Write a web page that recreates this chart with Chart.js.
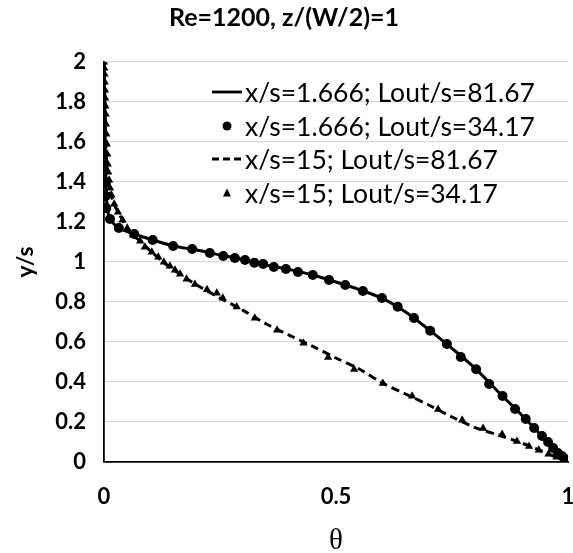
<!DOCTYPE html>
<html>
<head>
<meta charset="utf-8">
<script src="https://cdn.jsdelivr.net/npm/chart.js@4/dist/chart.umd.min.js"></script>
<style>
  html, body { margin: 0; padding: 0; background: #ffffff; }
  #wrap { width: 573px; height: 553px; }
</style>
</head>
<body>
<div id="wrap"><canvas id="c" width="573" height="553"></canvas></div>
<script>
// ---- Data ----
const titleText = "Re=1200, z/(W/2)=1";
const xTitle = "θ";
const yTitle = "y/s";
const seriesLabels = [
  "x/s=1.666; Lout/s=81.67",
  "x/s=1.666; Lout/s=34.17",
  "x/s=15; Lout/s=81.67",
  "x/s=15; Lout/s=34.17"
];

// x/s=1.666; Lout/s=81.67 (solid line)
const thetaA = [0.0, 0.001, 0.002, 0.003, 0.004, 0.005, 0.008, 0.013, 0.032, 0.065, 0.105, 0.15, 0.2, 0.25, 0.3, 0.35, 0.4, 0.45, 0.5, 0.55, 0.6, 0.65, 0.7, 0.75, 0.8, 0.85, 0.9, 0.95, 0.98, 1.0];
const yA     = [2.0, 1.85, 1.7, 1.55, 1.42, 1.33, 1.26, 1.215, 1.17, 1.14, 1.11, 1.08, 1.06, 1.035, 1.012, 0.985, 0.962, 0.935, 0.9, 0.862, 0.818, 0.75, 0.662, 0.568, 0.468, 0.35, 0.235, 0.115, 0.04, 0.0];

// x/s=1.666; Lout/s=34.17 (dots)
const thetaB = [0.004, 0.004, 0.005, 0.013, 0.032, 0.065, 0.105, 0.149, 0.19, 0.228, 0.257, 0.282, 0.304, 0.324, 0.343, 0.366, 0.392, 0.418, 0.45, 0.485, 0.52, 0.558, 0.599, 0.633, 0.668, 0.703, 0.739, 0.769, 0.802, 0.83, 0.859, 0.886, 0.909, 0.927, 0.944, 0.957, 0.968, 0.978, 0.987, 0.994, 1.0];
const yB     = [1.40, 1.33, 1.27, 1.215, 1.17, 1.14, 1.11, 1.08, 1.065, 1.045, 1.03, 1.02, 1.01, 0.996, 0.99, 0.975, 0.965, 0.95, 0.935, 0.91, 0.885, 0.855, 0.82, 0.776, 0.72, 0.656, 0.59, 0.525, 0.464, 0.39, 0.33, 0.265, 0.215, 0.17, 0.13, 0.10, 0.07, 0.045, 0.03, 0.015, 0.0];

// x/s=15; Lout/s=81.67 (dashed line)
const thetaC = [0.0, 0.002, 0.004, 0.007, 0.012, 0.02, 0.03, 0.045, 0.06, 0.08, 0.1, 0.13, 0.16, 0.2, 0.25, 0.3, 0.35, 0.4, 0.45, 0.5, 0.55, 0.6, 0.65, 0.7, 0.75, 0.8, 0.85, 0.9, 0.95, 1.0];
const yC     = [2.0, 1.8, 1.6, 1.45, 1.37, 1.3, 1.25, 1.19, 1.14, 1.1, 1.055, 0.995, 0.945, 0.885, 0.82, 0.758, 0.69, 0.633, 0.578, 0.52, 0.465, 0.395, 0.34, 0.285, 0.225, 0.172, 0.135, 0.095, 0.048, 0.0];

// x/s=15; Lout/s=34.17 (triangles)
const thetaD = [0.0, 0.0005, 0.001, 0.0015, 0.002, 0.0025, 0.003, 0.0035, 0.004, 0.005, 0.006, 0.007, 0.008, 0.009, 0.011, 0.013, 0.016, 0.022, 0.03, 0.04, 0.05, 0.063, 0.078, 0.088, 0.103, 0.117, 0.129, 0.142, 0.153, 0.164, 0.178, 0.196, 0.222, 0.243, 0.256, 0.286, 0.325, 0.373, 0.43, 0.483, 0.539, 0.601, 0.664, 0.72, 0.772, 0.817, 0.858, 0.89, 0.916, 0.937, 0.958, 0.975, 0.99, 1.0];
const yD     = [2.0, 1.97, 1.94, 1.9, 1.86, 1.82, 1.78, 1.74, 1.69, 1.64, 1.59, 1.54, 1.49, 1.45, 1.41, 1.37, 1.335, 1.29, 1.25, 1.21, 1.17, 1.135, 1.105, 1.075, 1.05, 1.025, 1.0, 0.98, 0.96, 0.94, 0.915, 0.888, 0.862, 0.845, 0.82, 0.776, 0.72, 0.66, 0.595, 0.523, 0.463, 0.393, 0.33, 0.263, 0.21, 0.168, 0.138, 0.103, 0.078, 0.06, 0.04, 0.025, 0.01, 0.0];

const xTicks = [0, 0.5, 1];
const xTickLabels = ["0", "0.5", "1"];

// ---- Build ----
const pts = (xs, ys) => xs.map((x, i) => ({ x: x, y: ys[i] }));
const fmt = v => String(Number(Number(v).toFixed(1)));

const legendPlugin = {
  id: 'insideLegend',
  afterDraw(chart) {
    const ctx = chart.ctx;
    const a = chart.chartArea;
    const x0 = a.left + 108, x1 = a.left + 138, tx = a.left + 141;
    const rowY = [a.top + 30, a.top + 64, a.top + 97, a.top + 131];
    ctx.save();
    ctx.fillStyle = '#000';
    ctx.strokeStyle = '#000';
    ctx.font = '26.5px Lato';
    ctx.textBaseline = 'middle';
    ctx.textAlign = 'left';
    ctx.lineWidth = 2.8;
    ctx.beginPath(); ctx.moveTo(x0, rowY[0]); ctx.lineTo(x1, rowY[0]); ctx.stroke();
    ctx.beginPath(); ctx.arc((x0 + x1) / 2, rowY[1], 4.5, 0, Math.PI * 2); ctx.fill();
    ctx.setLineDash([7, 4]);
    ctx.beginPath(); ctx.moveTo(x0, rowY[2]); ctx.lineTo(x1, rowY[2]); ctx.stroke();
    ctx.setLineDash([]);
    const cx = (x0 + x1) / 2, cy = rowY[3];
    ctx.beginPath(); ctx.moveTo(cx, cy - 4.5); ctx.lineTo(cx + 4, cy + 3.5); ctx.lineTo(cx - 4, cy + 3.5); ctx.closePath(); ctx.fill();
    seriesLabels.forEach((t, i) => ctx.fillText(t, tx, rowY[i] + 1));
    ctx.restore();
  }
};

new Chart(document.getElementById('c'), {
  type: 'scatter',
  data: {
    datasets: [
      { label: seriesLabels[1], data: pts(thetaB, yB), showLine: false, pointStyle: 'circle', pointRadius: 5, backgroundColor: '#000', borderColor: '#000', borderWidth: 0, order: 1 },
      { label: seriesLabels[3], data: pts(thetaD, yD), showLine: false, pointStyle: 'triangle', pointRadius: 4.8, backgroundColor: '#000', borderColor: '#000', borderWidth: 0, order: 2 },
      { label: seriesLabels[0], data: pts(thetaA, yA), showLine: true, pointRadius: 0, borderColor: '#000', borderWidth: 3, tension: 0.3, order: 3 },
      { label: seriesLabels[2], data: pts(thetaC, yC), showLine: true, pointRadius: 0, borderColor: '#000', borderWidth: 3, borderDash: [8, 5], tension: 0.3, order: 4 }
    ]
  },
  options: {
    responsive: false,
    animation: false,
    devicePixelRatio: 1,
    layout: { padding: { left: 0, right: 5, top: 0, bottom: 0 } },
    plugins: {
      legend: { display: false },
      tooltip: { enabled: false },
      title: {
        display: true,
        text: titleText,
        color: '#000',
        font: { family: 'Lato', size: 25, weight: 'bold', lineHeight: 1.2 },
        padding: { top: 3, bottom: 29 }
      }
    },
    scales: {
      x: {
        type: 'linear',
        min: 0, max: 1,
        afterFit(s) { s.height = 91; s.paddingRight = 0; s.paddingLeft = 0; },
        afterBuildTicks(s) { s.ticks = xTicks.map(v => ({ value: v })); },
        grid: { display: false, drawTicks: false, tickLength: 0 },
        border: { display: true, color: '#000', width: 1.8 },
        ticks: { color: '#000', padding: 22, maxRotation: 0, callback: (v, i) => xTickLabels[i], font: { family: 'Lato', size: 22, weight: 'bold' } },
        title: { display: true, text: xTitle, color: '#000', font: { family: 'Liberation Serif', size: 29, lineHeight: 0.8 }, padding: { top: 0, bottom: 0 } }
      },
      y: {
        type: 'linear',
        min: 0, max: 2,
        afterFit(s) { s.width = 104; s.paddingTop = 0; s.paddingBottom = 0; },
        ticks: { stepSize: 0.2, color: '#000', padding: 18, callback: v => fmt(v), font: { family: 'Lato', size: 22, weight: 'bold' } },
        grid: { display: true, color: '#d9d9d9', lineWidth: 1.3, drawTicks: false, tickLength: 0 },
        border: { display: true, color: '#000', width: 1.8 },
        title: { display: true, text: yTitle, color: '#000', font: { family: 'Lato', size: 23, weight: 'bold', lineHeight: 1.2 }, padding: { top: 12, bottom: 0 } }
      }
    }
  },
  plugins: [legendPlugin]
});
</script>
</body>
</html>
